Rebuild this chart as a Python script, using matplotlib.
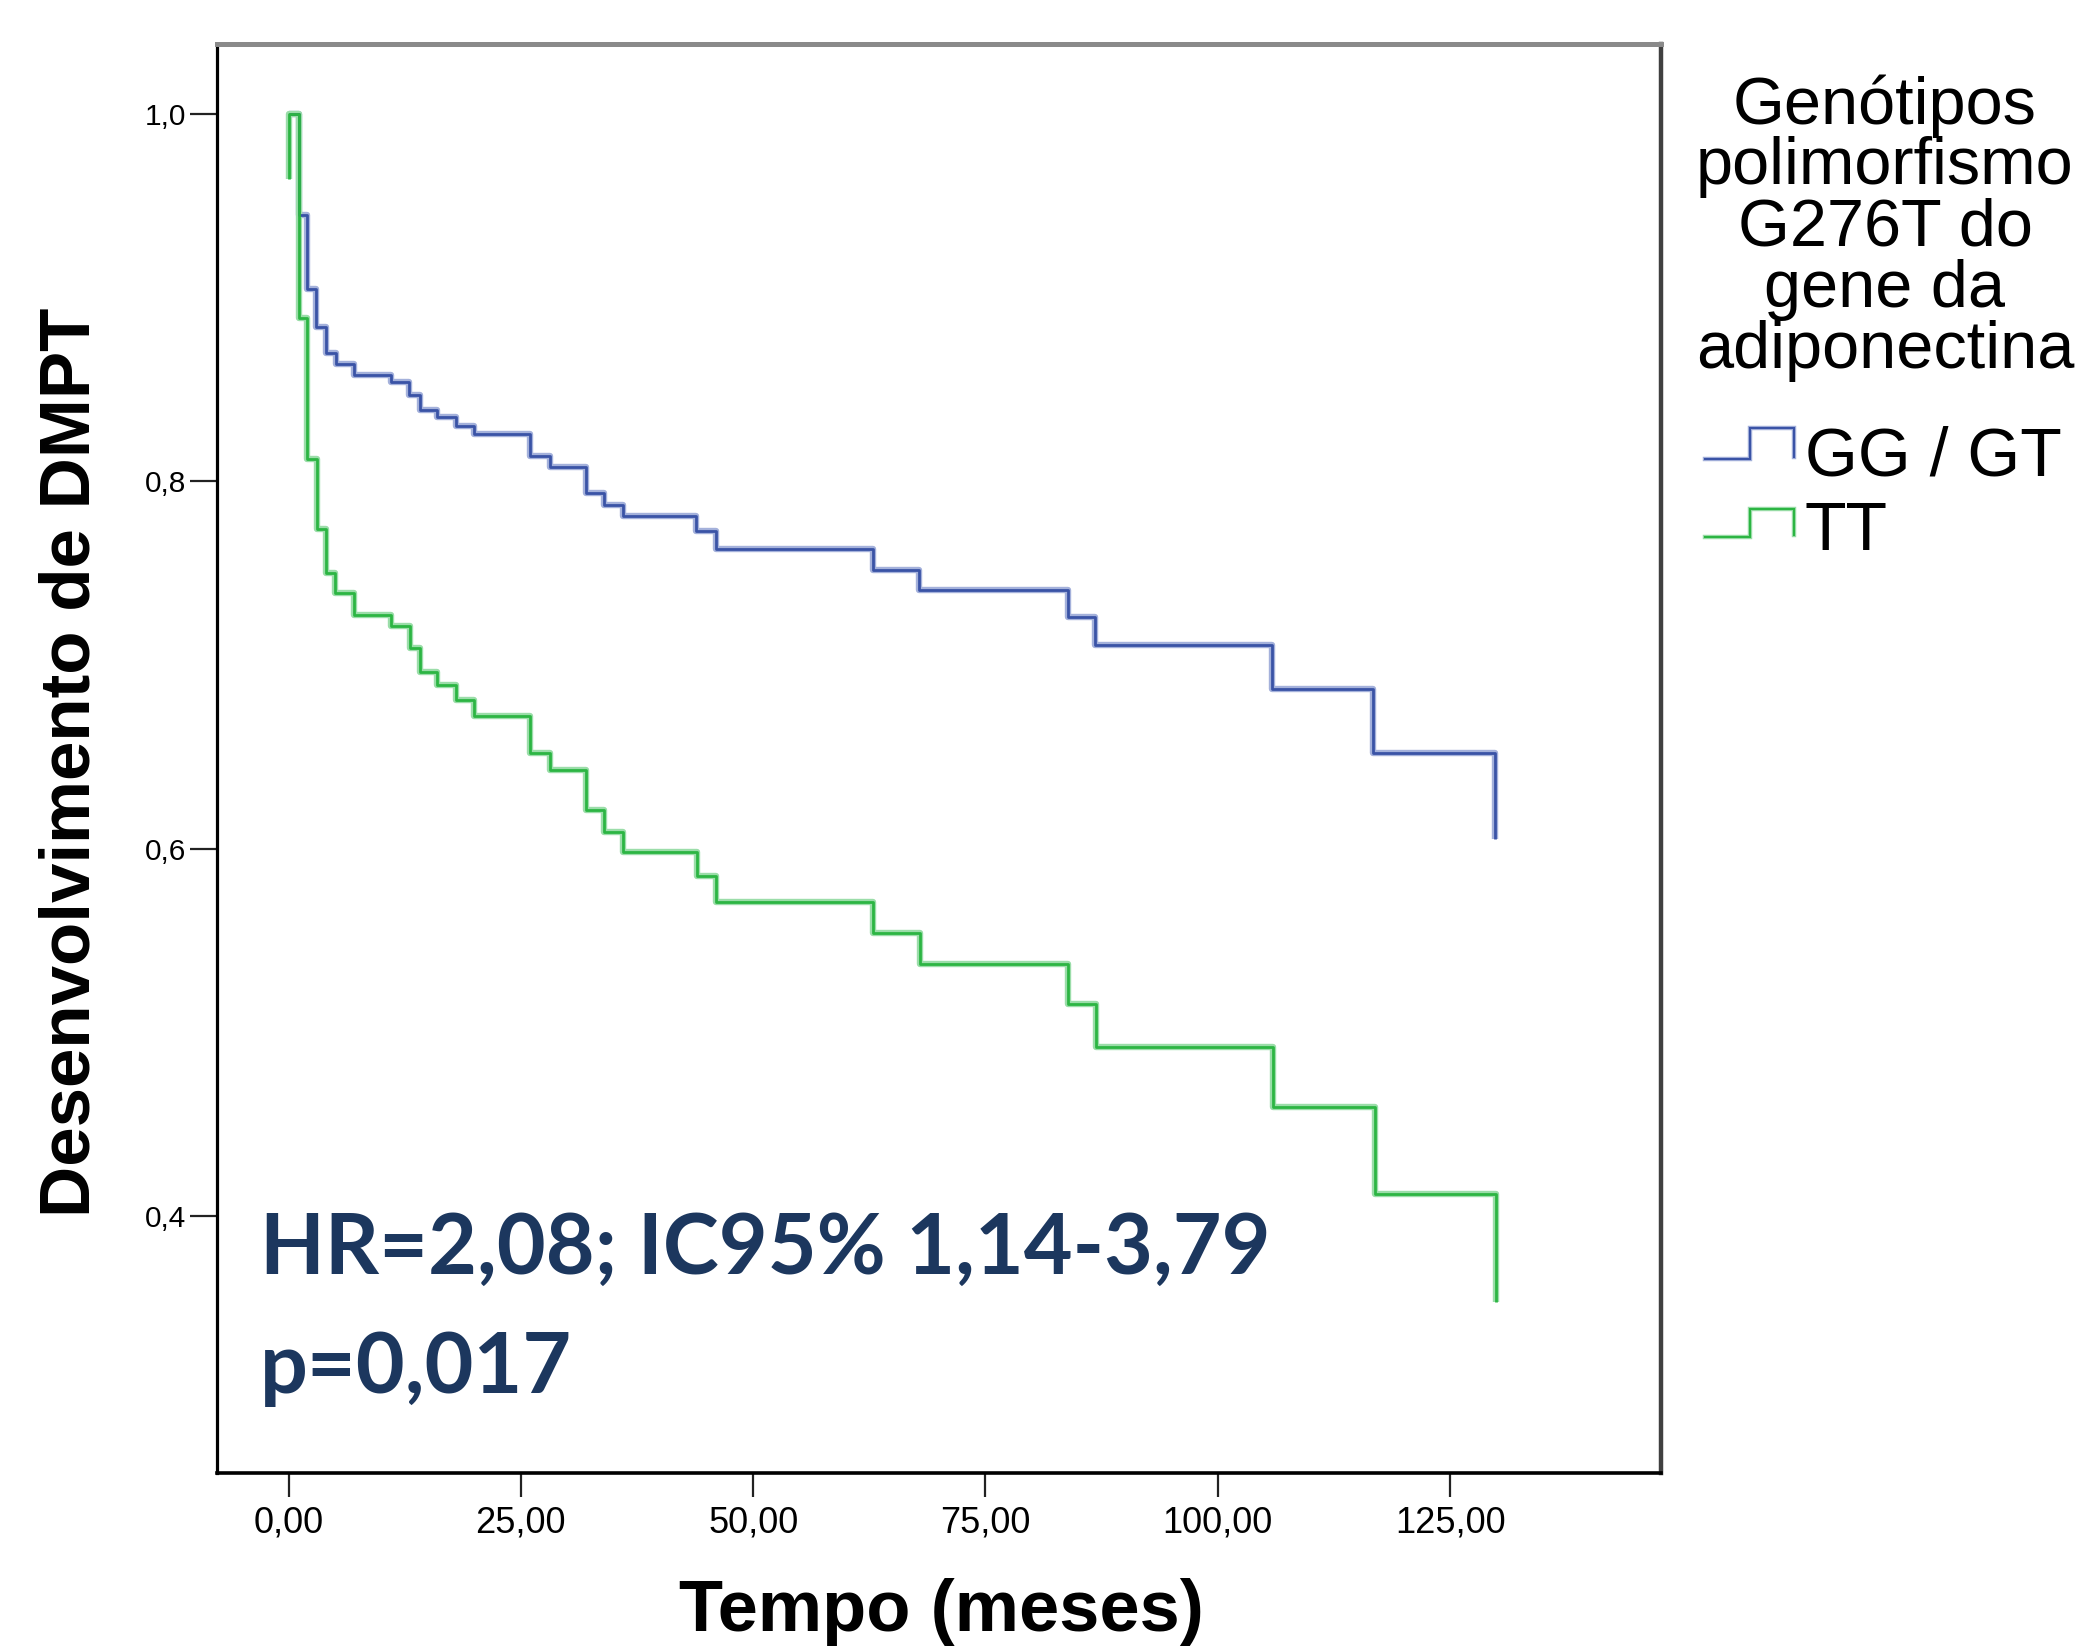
import matplotlib
matplotlib.use("Agg")
import matplotlib.pyplot as plt
from matplotlib.lines import Line2D

# ---------------- data ----------------
blue_t = [0, 1.1, 2.0, 3.0, 4.0, 5.1, 7.05, 11.0, 13.0, 14.1, 16.0, 18.0, 20.0,
          26.0, 28.1, 32.0, 34.0, 36.0, 43.9, 46.0, 62.9, 67.9, 83.9, 86.8,
          105.8, 116.7, 129.8]
blue_s = [1.0, 0.945, 0.905, 0.884, 0.870, 0.864, 0.858, 0.854, 0.847, 0.839,
          0.835, 0.830, 0.826, 0.814, 0.808, 0.794, 0.787, 0.781, 0.773, 0.763,
          0.752, 0.741, 0.726, 0.711, 0.687, 0.652, 0.605]

green_t = [0, 0, 1.1, 2.0, 3.1, 4.0, 5.0, 7.05, 11.0, 13.1, 14.1, 16.0, 18.0,
           20.0, 26.0, 28.1, 32.0, 34.0, 36.0, 44.0, 46.0, 62.9, 68.0, 83.9,
           86.9, 105.9, 116.9, 129.9]
green_s = [0.965, 1.0, 0.889, 0.812, 0.774, 0.750, 0.739, 0.727, 0.721, 0.709,
           0.696, 0.689, 0.681, 0.672, 0.652, 0.643, 0.621, 0.609, 0.598, 0.585,
           0.571, 0.554, 0.537, 0.515, 0.492, 0.459, 0.412, 0.353]

series_names = ["GG / GT", "TT"]
x_ticks = [0, 25, 50, 75, 100, 125]
x_tick_labels = ["0,00", "25,00", "50,00", "75,00", "100,00", "125,00"]
y_ticks = [0.4, 0.6, 0.8, 1.0]
y_tick_labels = ["0,4", "0,6", "0,8", "1,0"]
legend_title_lines = ["Genótipos", "polimorfismo", "G276T do", "gene da", "adiponectina"]
annot_line1 = "HR=2,08; IC95% 1,14-3,79"
annot_line2 = "p=0,017"

# ---------------- style ----------------
W, H = 2087, 1647
BLUE_D, BLUE_L = "#3a53a6", "#a4b1db"
GREEN_D, GREEN_L = "#2cb543", "#9bdda9"
ARIAL = ["Liberation Sans", "DejaVu Sans"]
plt.rcParams["font.family"] = ARIAL

fig = plt.figure(figsize=(W / 100, H / 100), dpi=100)
fig.patch.set_facecolor("white")

L, R, T, B = 217, 1661, 44, 1473
ax = fig.add_axes([L / W, 1 - B / H, (R - L) / W, (B - T) / H])

for t, s, cd, cl in [(blue_t, blue_s, BLUE_D, BLUE_L), (green_t, green_s, GREEN_D, GREEN_L)]:
    ax.step(t, s, where="post", color=cl, lw=4.6, solid_capstyle="butt", zorder=2)
    ax.step(t, s, where="post", color=cd, lw=2.0, solid_capstyle="butt", zorder=3)

ax.set_xlim(-7.70, 147.7)
ax.set_ylim(0.2597, 1.0384)
ax.set_xticks(x_ticks)
ax.set_xticklabels(x_tick_labels)
ax.set_yticks(y_ticks)
ax.set_yticklabels(y_tick_labels)
ax.tick_params(axis="x", direction="out", length=17, width=1.6, pad=6.5,
               labelsize=26, color="#222222")
ax.tick_params(axis="y", direction="out", length=19.5, width=1.6, pad=2.5,
               labelsize=21.5, color="#222222")

ax.spines["left"].set_color("black")
ax.spines["left"].set_linewidth(2.3)
ax.spines["bottom"].set_color("black")
ax.spines["bottom"].set_linewidth(2.6)
ax.spines["top"].set_color("#8a8a8a")
ax.spines["top"].set_linewidth(3.6)
ax.spines["right"].set_color("#404040")
ax.spines["right"].set_linewidth(3.2)

# axis labels
fig.text(941.5 / W, 1 - 1631 / H, "Tempo (meses)", ha="center", va="baseline",
         fontsize=52, fontweight="bold", family=ARIAL)
fig.text(72 / W, 1 - 762 / H, "Desenvolvimento de DMPT", rotation=90,
         ha="center", va="center", fontsize=51, fontweight="bold", family=ARIAL)

# annotation (fit width)
ANN = ["Lato", "DejaVu Sans"]
tmp = fig.text(0, 0, annot_line1, fontsize=60, fontweight="bold", family=ANN)
fig.canvas.draw()
wpx = tmp.get_window_extent().width
tmp.remove()
afs = 60 * 1012 / wpx
fig.text(260 / W, 1 - 1274 / H, annot_line1, ha="left", va="baseline",
         fontsize=afs, fontweight="bold", color="#1c375e", family=ANN)
fig.text(260 / W, 1 - 1393 / H, annot_line2, ha="left", va="baseline",
         fontsize=afs, fontweight="bold", color="#1c375e", family=ANN)

# legend
baselines = [124, 184, 246, 307, 368]
for line, yb in zip(legend_title_lines, baselines):
    fig.text(1885 / W, 1 - yb / H, line, ha="center", va="baseline",
             fontsize=48, family=ARIAL)

for name, ybase, lo, hi, cd, cl in [
        (series_names[0], 475, 459, 428, BLUE_D, BLUE_L),
        (series_names[1], 550, 537, 509, GREEN_D, GREEN_L)]:
    xs = [1705 / W, 1750 / W, 1750 / W, 1794 / W, 1794 / W]
    ys = [1 - lo / H, 1 - lo / H, 1 - hi / H, 1 - hi / H, 1 - (lo - 2) / H]
    fig.add_artist(Line2D(xs, ys, transform=fig.transFigure, color=cl, lw=3.2,
                          solid_joinstyle="miter"))
    fig.add_artist(Line2D(xs, ys, transform=fig.transFigure, color=cd, lw=1.5,
                          solid_joinstyle="miter"))
    fig.text(1805 / W, 1 - ybase / H, name, ha="left", va="baseline",
             fontsize=49, family=ARIAL)

fig.savefig("out.png", dpi=100, facecolor="white")
